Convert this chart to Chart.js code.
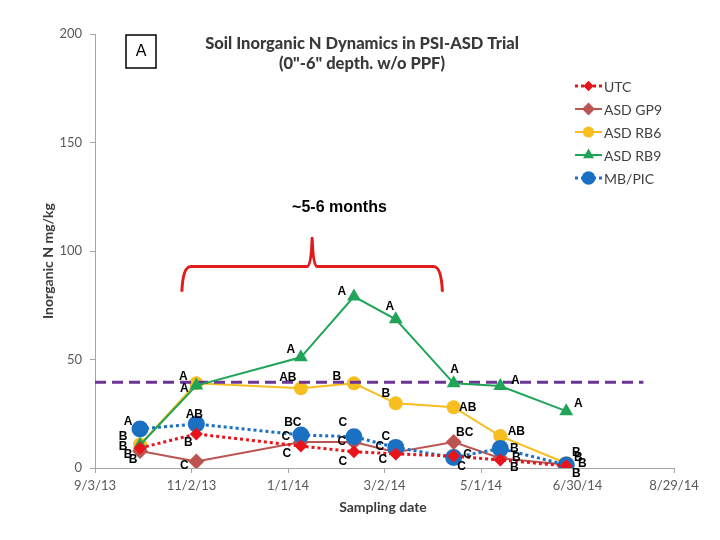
<!DOCTYPE html>
<html lang="en">
<head>
<meta charset="UTF-8">
<title>Soil Inorganic N Dynamics in PSI-ASD Trial</title>
<script src="https://cdn.jsdelivr.net/npm/chart.js"></script>
<style>
    html, body { margin: 0; padding: 0; background: #fff; }
    .chart-wrap { width: 720px; height: 540px; position: relative; }
</style>
</head>
<body>
<div class="chart-wrap"><canvas id="nChart"></canvas></div>
<script>
// sampling dates and treatment means (mg/kg)
const sampleDates = ['2013-10-01', '2013-11-05', '2014-01-09', '2014-02-11',
                     '2014-03-09', '2014-04-14', '2014-05-13', '2014-06-23'];
const utcVals   = [9.2, 15.7, 10.1, 7.5, 6.5, 5.5, 3.7, 1.0];
const gp9Vals   = [7.8, 3.0, 12.0, 12.0, 7.3, 12.0, 4.5, 1.5];
const rb6Vals   = [10.8, 39.0, 36.7, 39.0, 29.8, 28.0, 14.7, 2.2];
const rb9Vals   = [10.6, 38.0, 51.0, 79.0, 68.5, 39.0, 37.8, 26.2];
const mbpicVals = [18.0, 20.3, 15.2, 14.4, 9.5, 4.8, 9.0, 1.4];

// significance letters per sampling date
const utcLetters   = ['B', 'B', 'C', 'C', 'C', 'C', 'B', 'B'];
const gp9Letters   = ['B', 'C', 'C', 'C', 'C', 'BC', 'B', 'B'];
const rb6Letters   = ['B', 'A', 'AB', 'B', 'B', 'AB', 'AB', 'B'];
const rb9Letters   = ['B', 'A', 'A', 'A', 'A', 'A', 'A', 'A'];
const mbpicLetters = ['A', 'AB', 'BC', 'C', 'C', 'C', 'B', 'B'];

const yTicks = [0, 50, 100, 150, 200];
const thresholdN = 39.5;

// label nudges (px) so letters sit beside their markers
const letterNudge = {
    utc:   [[-7, 12], [-8, 9], [-14, 8], [-11, 10], [-13, 6], [8, 11], [14, 8], [16, -2]],
    gp9:   [[-12, 4], [-12, 4], [-15, -5], [-12, 0], [-16, -5], [11, -9], [16, -1], [12, -7]],
    rb6:   [[-17, 2], [-13, -7], [-13, -11], [-17, -7], [-10, -10], [14, 0], [16, -4], [10, -11]],
    rb9:   [[-17, -8], [-12, 3], [-10, -8], [-12, -5], [-6, -13], [1, -14], [15, -5], [12, -7]],
    mbpic: [[-12, -7], [-2, -9], [-8, -12], [-11, -14], [-10, -11], [14, -3], [14, 0], [10, 9]]
};

const EPOCH = Date.UTC(1899, 11, 30);
function toSerial(s) {
    const [y, m, d] = s.split('-').map(Number);
    return Math.round((Date.UTC(y, m - 1, d) - EPOCH) / 86400000);
}
function fmtSerial(v) {
    const dt = new Date(EPOCH + v * 86400000);
    return (dt.getUTCMonth() + 1) + '/' + dt.getUTCDate() + '/' + String(dt.getUTCFullYear()).slice(2);
}
const xs = sampleDates.map(toSerial);
const pts = vals => vals.map((v, i) => ({ x: xs[i], y: v }));

const xMin = toSerial('2013-09-03');
const xMax = toSerial('2014-08-29');

const series = [
    { key: 'utc',   label: 'UTC',     vals: utcVals,   letters: utcLetters,   color: '#E8141B', style: 'rectRot',  radius: 6.5, dash: [3, 3], width: 3, order: 1 },
    { key: 'gp9',   label: 'ASD GP9', vals: gp9Vals,   letters: gp9Letters,   color: '#BC5452', style: 'rectRot',  radius: 8,   dash: [],     width: 2, order: 5 },
    { key: 'rb6',   label: 'ASD RB6', vals: rb6Vals,   letters: rb6Letters,   color: '#F6BE1E', style: 'circle',   radius: 7,   dash: [],     width: 2, order: 6 },
    { key: 'rb9',   label: 'ASD RB9', vals: rb9Vals,   letters: rb9Letters,   color: '#1FA458', style: 'triangle', radius: 8,   dash: [],     width: 2, order: 2 },
    { key: 'mbpic', label: 'MB/PIC',  vals: mbpicVals, letters: mbpicLetters, color: '#1A70C2', style: 'circle',   radius: 8.5, dash: [3, 3], width: 3, order: 3 }
];

const datasets = series.map(s => ({
    label: s.label,
    data: pts(s.vals),
    borderColor: s.color,
    backgroundColor: s.color,
    pointBackgroundColor: s.color,
    pointBorderColor: s.color,
    pointBorderWidth: 0,
    pointStyle: s.style,
    pointRadius: s.radius,
    borderWidth: s.width,
    borderDash: s.dash,
    tension: 0,
    order: s.order
}));
datasets.push({
    label: 'threshold',
    data: [{ x: xMin, y: thresholdN }, { x: toSerial('2014-08-10'), y: thresholdN }],
    borderColor: '#6B3596',
    borderWidth: 3,
    borderDash: [11, 6],
    pointRadius: 0,
    order: 4
});

// bracket marking the ~5-6 month window (data units)
const braceX = [toSerial('2013-10-27'), toSerial('2014-01-16'), toSerial('2014-04-07')];
const braceY = { end: 81.2, bar: 92.8, peak: 105.9 };
const braceText = { x: toSerial('2014-02-02'), y: 119.8, text: '~5-6 months' };

const decor = {
    id: 'decor',
    afterDatasetsDraw(chart) {
        const ctx = chart.ctx;
        ctx.save();
        ctx.fillStyle = '#000';
        ctx.font = 'bold 12px "Liberation Sans", Arial, sans-serif';
        ctx.textAlign = 'center';
        ctx.textBaseline = 'middle';
        series.forEach((s, di) => {
            const meta = chart.getDatasetMeta(di);
            meta.data.forEach((pt, i) => {
                const n = letterNudge[s.key][i];
                ctx.fillText(s.letters[i], pt.x + n[0], pt.y + n[1]);
            });
        });
        ctx.restore();
    },
    afterDraw(chart) {
        const ctx = chart.ctx;
        const xs_ = chart.scales.x, ys_ = chart.scales.y;
        ctx.save();

        // title
        ctx.fillStyle = '#3a3a3a';
        ctx.textAlign = 'center';
        ctx.textBaseline = 'middle';
        ctx.font = '900 16.5px Lato, sans-serif';
        ctx.fillText('Soil Inorganic N Dynamics in PSI-ASD Trial', 362, 44);
        ctx.fillText('(0"-6" depth. w/o PPF)', 362, 64);

        // panel box "A"
        ctx.strokeStyle = '#000';
        ctx.lineWidth = 1.5;
        ctx.strokeRect(126, 35, 30, 33);
        ctx.fillStyle = '#000';
        ctx.font = '16px "Liberation Sans", Arial, sans-serif';
        ctx.fillText('A', 141, 52);

        // axis titles
        ctx.fillStyle = '#3a3a3a';
        ctx.font = 'bold 14px Lato, sans-serif';
        ctx.fillText('Sampling date', 383, 507);
        ctx.save();
        ctx.translate(48, 261);
        ctx.rotate(-Math.PI / 2);
        ctx.fillText('Inorganic N mg/kg', 0, 0);
        ctx.restore();

        // brace
        const xl = xs_.getPixelForValue(braceX[0]);
        const xm = xs_.getPixelForValue(braceX[1]);
        const xr = xs_.getPixelForValue(braceX[2]);
        const yEnd = ys_.getPixelForValue(braceY.end);
        const yBar = ys_.getPixelForValue(braceY.bar);
        const yPk = ys_.getPixelForValue(braceY.peak);
        ctx.strokeStyle = '#E01B1B';
        ctx.lineWidth = 3;
        ctx.lineJoin = 'round';
        ctx.beginPath();
        ctx.moveTo(xl, yEnd);
        ctx.quadraticCurveTo(xl + 1, yBar, xl + 9, yBar);
        ctx.lineTo(xm - 5, yBar);
        ctx.quadraticCurveTo(xm - 1, yBar - 1, xm, yPk);
        ctx.quadraticCurveTo(xm + 1, yBar - 1, xm + 5, yBar);
        ctx.lineTo(xr - 9, yBar);
        ctx.quadraticCurveTo(xr - 1, yBar, xr, yEnd);
        ctx.stroke();
        ctx.fillStyle = '#000';
        ctx.font = 'bold 16px "Liberation Sans", Arial, sans-serif';
        ctx.fillText(braceText.text, xs_.getPixelForValue(braceText.x), ys_.getPixelForValue(braceText.y));

        // legend
        const lx = 575, ly0 = 86, step = 23;
        series.forEach((s, i) => {
            const y = ly0 + i * step;
            ctx.strokeStyle = s.color;
            ctx.lineWidth = s.width;
            ctx.setLineDash(s.dash);
            ctx.beginPath();
            ctx.moveTo(lx, y);
            ctx.lineTo(lx + 27, y);
            ctx.stroke();
            ctx.setLineDash([]);
            ctx.fillStyle = s.color;
            Chart.helpers.drawPoint(ctx, { pointStyle: s.style, radius: s.radius * 0.8, rotation: 0, borderWidth: 0 }, lx + 13.5, y);
            ctx.fillStyle = '#404040';
            ctx.textAlign = 'left';
            ctx.font = '14px Lato, sans-serif';
            ctx.fillText(s.label, lx + 29, y + 1);
        });
        ctx.restore();
    }
};

new Chart(document.getElementById('nChart'), {
    type: 'line',
    data: { datasets: datasets },
    options: {
        responsive: true,
        maintainAspectRatio: false,
        animation: false,
        layout: { padding: { top: 34, right: 46, bottom: 0, left: 0 } },
        plugins: {
            legend: { display: false },
            tooltip: { enabled: false }
        },
        scales: {
            x: {
                type: 'linear',
                min: xMin,
                max: xMax,
                afterFit(scale) { scale.height = 72; },
                grid: { drawOnChartArea: false, drawTicks: true, tickLength: 5, color: '#A6A6A6' },
                border: { color: '#A6A6A6', width: 1 },
                ticks: {
                    stepSize: 60,
                    padding: 5,
                    maxRotation: 0,
                    autoSkip: false,
                    color: '#595959',
                    font: { family: 'Lato', size: 13 },
                    callback: v => fmtSerial(v)
                }
            },
            y: {
                min: yTicks[0],
                max: yTicks[yTicks.length - 1],
                afterFit(scale) { scale.width = 95; },
                afterBuildTicks(scale) { scale.ticks = yTicks.map(v => ({ value: v })); },
                grid: { drawOnChartArea: false, drawTicks: true, tickLength: 5, color: '#A6A6A6' },
                border: { color: '#A6A6A6', width: 1 },
                ticks: {
                    padding: 8,
                    color: '#595959',
                    font: { family: 'Lato', size: 13 }
                }
            }
        }
    },
    plugins: [decor]
});
</script>
</body>
</html>
